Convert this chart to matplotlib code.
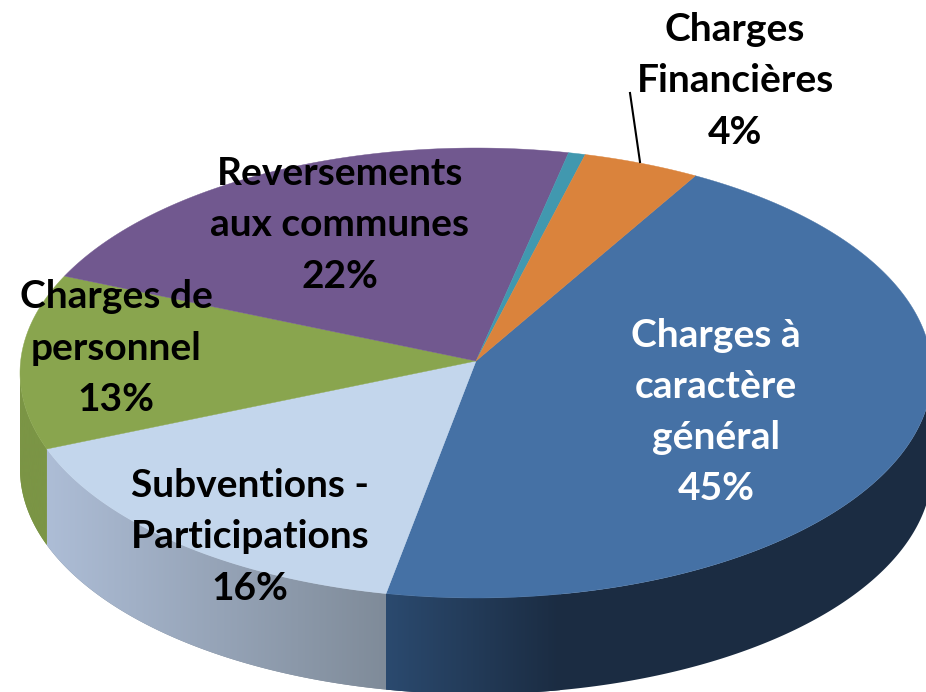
import matplotlib
matplotlib.use('Agg')
import matplotlib.pyplot as plt
from matplotlib.patches import Polygon
import numpy as np

names = ['Charges à\ncaractère\ngénéral', 'Subventions -\nParticipations', 'Charges de\npersonnel',
         'Reversements\naux communes', '', 'Charges\nFinancières']
values = [45.2, 15.9, 12.6, 21.7, 0.6, 4.2]
shown = ['45%', '16%', '13%', '22%', '', '4%']
colors = ['#4571a5', '#c3d6ec', '#89a54e', '#71588f', '#4198af', '#da833c']
wall_left = ['#2b4a6f', '#adbdd6', '#7b9545', '#5a4672', '#327a8c', '#ae6930']
wall_right = ['#1b2c42', '#7f8b99', '#7b9545', '#5a4672', '#327a8c', '#ae6930']
text_colors = ['white', 'black', 'black', 'black', 'black', 'black']
label_pos = [(716, 412), (250, 537), (116, 348), (340, 225), None, (735, 81)]

start = 29.0
cx, cy, a, b = 476.0, 373.0, 456.0, 225.0
ax0, ay0 = 476.0, 361.0
depth = 96.0


def rim(theta):
    # point on the disk edge, ray from the apex in perspective
    th = np.radians(theta)
    dx = 453 * np.sin(th)
    dy = -np.cos(th) * np.where(np.cos(th) > 0, 212.0, 236.0)
    x0 = (ax0 - cx) / a
    y0 = (ay0 - cy) / b
    ux = dx / a
    uy = dy / b
    A = ux ** 2 + uy ** 2
    B = 2 * (x0 * ux + y0 * uy)
    C = x0 ** 2 + y0 ** 2 - 1
    t = (-B + np.sqrt(B ** 2 - 4 * A * C)) / (2 * A)
    return ax0 + t * dx, ay0 + t * dy


fig = plt.figure(figsize=(9.26, 6.92), dpi=100)
ax = fig.add_axes([0, 0, 1, 1])
ax.axis('off')

fracs = np.array(values) / sum(values) * 360
edges = start + np.concatenate([[0], np.cumsum(fracs)])

# side walls first, only the front part of the rim
for i in range(len(values)):
    th = np.linspace(edges[i], edges[i + 1], 300)
    x, y = rim(th)
    front = y >= cy
    if not front.any():
        continue
    x, y = x[front], y[front]
    pts = np.concatenate([np.c_[x, y], np.c_[x, y + depth][::-1]])
    p = Polygon(pts, closed=True, fc=wall_right[i], ec='none', zorder=0.9)
    ax.add_patch(p)
    c1 = np.array(matplotlib.colors.to_rgb(wall_left[i]))
    c2 = np.array(matplotlib.colors.to_rgb(wall_right[i]))
    ramp = np.linspace(0, 1, 256)[None, :, None]
    img = c1[None, None, :] * (1 - ramp) + c2[None, None, :] * ramp
    # blue goes dark quickly after the front edge
    x_end = 560 if i == 0 else x.max()
    im = ax.imshow(img, extent=(x.min(), x_end, 892, 0), aspect='auto', zorder=1)
    im.set_clip_path(p)

# top face
for i in range(len(values)):
    th = np.linspace(edges[i], edges[i + 1], 200)
    x, y = rim(th)
    ax.fill(np.r_[ax0, x], np.r_[ay0, y], color=colors[i], lw=0.3, zorder=2)

ax.set_xlim(0, 926)
ax.set_ylim(692, 0)

for i in range(len(values)):
    if label_pos[i] is None:
        continue
    ax.text(label_pos[i][0], label_pos[i][1], names[i] + '\n' + shown[i], color=text_colors[i], ha='center',
            va='center', fontsize=28, fontweight='bold', family='Lato', linespacing=1.56, zorder=4)

# leader line for the small slice
ax.plot([630, 640], [93, 162], color='black', lw=1.5, zorder=3)

fig.savefig('out.png', dpi=100)
